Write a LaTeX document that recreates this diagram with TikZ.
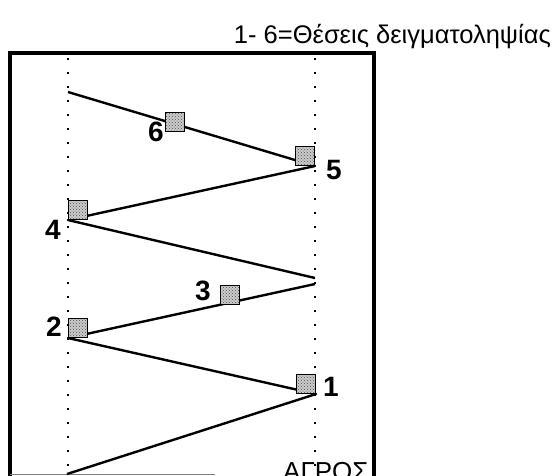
\documentclass[tikz,border=0pt]{standalone}
\usepackage{fontspec}
\setmainfont{Liberation Sans}
\usetikzlibrary{patterns}

\begin{document}
\begin{tikzpicture}[
    x=1pt, y=-1pt,
    sample/.style={
        draw,
        line width=1.3pt,
        minimum size=19pt,
        inner sep=0pt,
        preaction={fill=gray!40},
        pattern=crosshatch dots,
        pattern color=black!70
    },
    num/.style={font=\bfseries\fontsize{28}{28}\selectfont, inner sep=0pt},
    track/.style={line width=2.4pt, line join=round},
    guide/.style={line width=1.2pt, dash pattern=on 2pt off 12pt}
]
\useasboundingbox (0,0) rectangle (553,475);
\clip (0,0) rectangle (553,475);

% Frame
\draw[line width=4pt] (10,480) -- (10,53) -- (374,53) -- (374,480);
\draw[gray, line width=1pt] (10,474) -- (215,474);

% Guides along the two edges
\draw[guide] (68,58) -- (68,480);
\draw[guide] (315,58) -- (315,480);

% Turning points
\coordinate (t0) at (68,92);
\coordinate (t5) at (315,166);
\coordinate (t4) at (68,220);
\coordinate (t3a) at (315,278);
\coordinate (t3b) at (315,284);
\coordinate (t2) at (68,338);
\coordinate (t1) at (316,394);
\coordinate (t9) at (67,474);

% Track
\draw[track] (t0) -- (t5) -- (t4) -- (t3a);
\draw[track] (t3b) -- (t2) -- (t1) -- (t9);

% Samples
\node[sample, anchor=south east] (s5) at (t5) {};
\node[sample, anchor=south west] (s4) at (t4) {};
\node[sample, anchor=south west] (s2) at (t2) {};
\node[sample, anchor=south east] (s1) at (t1) {};
\node[sample] (s6) at (175,122) {};
\node[sample] (s3) at (230,295) {};

% Numbers
\node[num] (n6) at (156,132) {6};
\node[num] (n5) at (334,170) {5};
\node[num] (n4) at (53,230) {4};
\node[num] (n3) at (203,291) {3};
\node[num] (n2) at (54,327) {2};
\node[num] (n1) at (331,387) {1};

% Texts
\node[anchor=base east, inner sep=0pt, font=\fontsize{25.5}{25.5}\selectfont] (title) at (551,43) {1- 6=Θέσεις δειγματοληψίας};
\node[anchor=base west, inner sep=0pt, font=\fontsize{26}{26}\selectfont] (field) at (283,480) {ΑΓΡΟΣ};

\end{tikzpicture}
\end{document}
